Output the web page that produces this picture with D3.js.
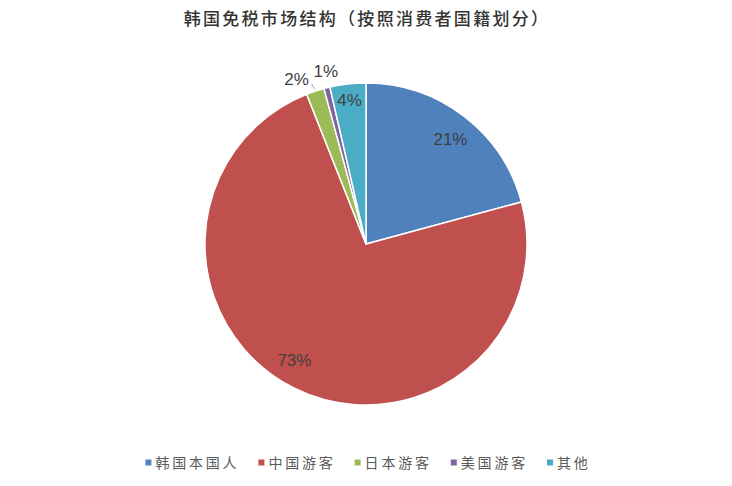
<!DOCTYPE html>
<html><head><meta charset="utf-8">
<script src="https://cdn.jsdelivr.net/npm/d3@7"></script>
<style>body{margin:0;background:#fff;}svg{display:block;}</style>
</head><body><svg id="c" width="732" height="486"></svg>
<script>
const title = "韩国免税市场结构（按照消费者国籍划分）";
const categories = ["韩国本国人", "中国游客", "日本游客", "美国游客", "其他"];
const values = [20.8, 73.2, 1.8, 0.6, 3.6];
const colors = ["#4F81BD", "#C0504D", "#9BBB59", "#8064A2", "#4BACC6"];

const W = 732, H = 486, cx = 366, cy = 244, R = 161;
const svg = d3.select("#c");
svg.append("text").attr("x", W/2 + 1).attr("y", 25).attr("text-anchor", "middle")
  .attr("font-family", "'Noto Sans CJK SC'").attr("font-size", 17).attr("font-weight", 500)
  .attr("letter-spacing", 2.3).attr("fill", "#333").text(title);

const data = categories.map((c, i) => ({c, v: values[i], i}));
const total = d3.sum(values);
const pie = d3.pie().value(d => d.v).sort(null);
const arcs = pie(data);
const arc = d3.arc().innerRadius(0).outerRadius(R);
const g = svg.append("g").attr("transform", `translate(${cx},${cy})`);
g.selectAll("path").data(arcs).join("path").attr("d", arc)
  .attr("fill", d => colors[d.data.i]).attr("stroke", "#fff").attr("stroke-width", 1.5);

// label placement style (Excel best-fit look)
const labelStyle = [
  {r: 135, shift: 1.3},
  {r: 136.5, shift: 5},
  {r: 179, shift: -4.5, leader: true},
  {r: 178, shift: 1},
  {r: 145, shift: 0}
];
const fmt = d3.format(".0%");
const rad = Math.PI / 180;
arcs.forEach(a => {
  const s = labelStyle[a.data.i];
  const ang = (a.startAngle + a.endAngle) / 2 + s.shift * rad;
  const p = [s.r * Math.sin(ang), -s.r * Math.cos(ang)];
  if (s.leader) {
    const m = (a.startAngle + a.endAngle) / 2;
    const e = [(R + 2) * Math.sin(m), -(R + 2) * Math.cos(m)];
    g.append("path").attr("d", `M${p[0]+15},${p[1]+5}H${e[0]-3}L${e[0]},${e[1]}`)
      .attr("fill", "none").attr("stroke", "#a6a6a6").attr("stroke-width", 1);
  }
  g.append("text").attr("x", p[0]).attr("y", p[1]).attr("dy", "0.35em")
    .attr("text-anchor", "middle").attr("font-family", "'Liberation Sans', Arial, sans-serif")
    .attr("font-size", 17).attr("fill", "#404040").text(fmt(a.data.v / total));
});

// legend
const lg = svg.append("g");
const items = lg.selectAll("g").data(data).join("g");
items.append("rect").attr("width", 6).attr("height", 6).attr("y", -3.5).attr("fill", d => colors[d.i]);
items.append("text").attr("x", 10).attr("dy", "0.35em")
  .attr("font-family", "'Noto Sans CJK SC'").attr("font-size", 14).attr("letter-spacing", 2.8)
  .attr("fill", "#595959").text(d => d.c);
let x = 0; const gap = 19;
const pos = [];
items.each(function() {
  pos.push(x);
  x += this.getBBox().width + gap;
});
const totalW = x - gap;
const x0 = (W - totalW) / 2 + 2;
items.attr("transform", (d, i) => `translate(${x0 + pos[i]},463)`);
</script></body></html>
